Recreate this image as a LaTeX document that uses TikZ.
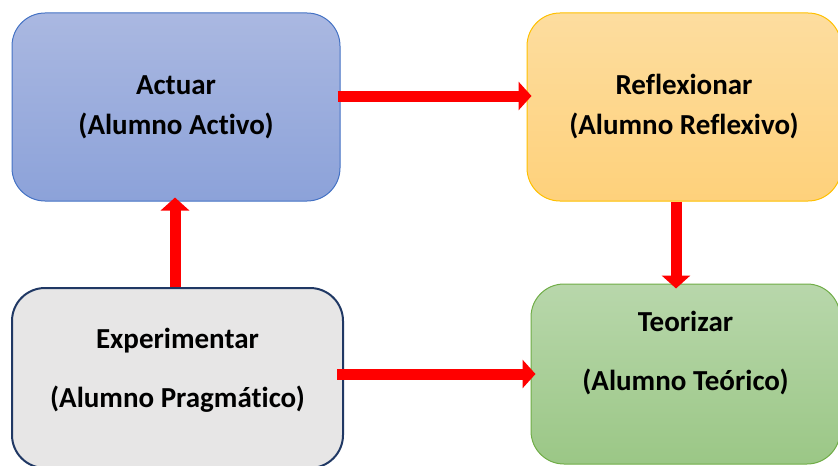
\documentclass[tikz,border=0pt]{standalone}
\usepackage{fontspec}
\setmainfont{Carlito}[Ligatures=NoCommon]
\usetikzlibrary{arrows.meta}

\definecolor{azulA}{HTML}{AAB8E1}
\definecolor{azulB}{HTML}{8CA2D9}
\definecolor{bordeA}{HTML}{4472C4}
\definecolor{naranjaA}{HTML}{FDDD9F}
\definecolor{naranjaB}{HTML}{FED17B}
\definecolor{bordeR}{HTML}{FFC000}
\definecolor{verdeA}{HTML}{B8D7AB}
\definecolor{verdeB}{HTML}{9BC786}
\definecolor{bordeT}{HTML}{70AD47}
\definecolor{grisE}{HTML}{E7E6E6}
\definecolor{bordeE}{HTML}{203864}

\begin{document}
\begin{tikzpicture}[x=0.5pt,y=-0.5pt,
	caja/.style={rounded corners=16.5pt, align=center, inner sep=0pt,
		font=\bfseries\fontsize{14.5}{20}\selectfont},
	flecha/.style={draw=red, line width=5.5pt, -{Triangle[width=14pt,length=6.5pt]}}]
					\useasboundingbox (0,0) rectangle (838,465);
					
					\node[caja, draw=bordeA, line width=0.5pt, top color=azulA, bottom color=azulB,
						minimum width=164pt, minimum height=94pt] (act) at (176,107) {Actuar\\(Alumno Activo)};
					\node[caja, draw=bordeR, line width=0.5pt, top color=naranjaA, bottom color=naranjaB,
						minimum width=157pt, minimum height=94pt] (ref) at (684,107) {Reflexionar\\(Alumno Reflexivo)};
					\node[caja, draw=bordeE, line width=1pt, fill=grisE,
						minimum width=165.5pt, minimum height=90pt] (exp) at (177.5,378) {Experimentar\\[9.5pt](Alumno Pragmático)\\[-9.5pt]\mbox{}};
					\node[caja, draw=bordeT, line width=0.5pt, top color=verdeA, bottom color=verdeB,
						minimum width=154.5pt, minimum height=90pt] (teo) at (685.5,374) {Teorizar\\[9.5pt](Alumno Teórico)\\[3pt]\mbox{}};
					
					\draw[flecha, shorten <=-1.5pt, shorten >=-2.5pt] ([yshift=5.5pt]act.east) -- ([yshift=5.5pt]ref.west);
					\draw[flecha, shorten >=-2.5pt] ([xshift=-4pt]ref.south) -- ([xshift=-4pt]ref.south |- teo.north);
					\draw[flecha, shorten >=-2pt] ([xshift=-1.25pt]exp.north) -- ([xshift=-1.25pt]exp.north |- act.south);
					\draw[flecha, shorten <=-3.5pt, shorten >=-2.5pt] (exp.east |- teo.west) -- (teo.west);
				\end{tikzpicture}
\end{document}
